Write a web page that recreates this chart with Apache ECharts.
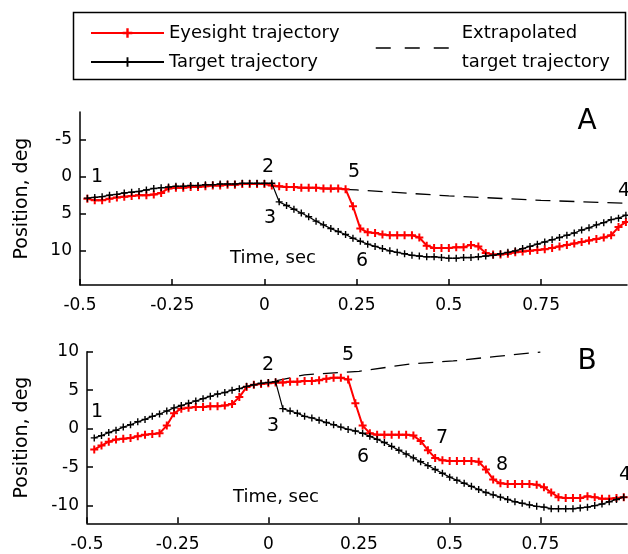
<!DOCTYPE html>
<html>
<head>
<meta charset="utf-8">
<script src="https://cdn.jsdelivr.net/npm/echarts@6/dist/echarts.min.js"></script>
<style>
  html, body { margin: 0; padding: 0; background: #fff; }
  #chart { width: 628px; height: 554px; }
</style>
</head>
<body>
<div id="chart"></div>
<script>
// sample times (s), shared by both panels
const times = [
  -0.48, -0.46, -0.44, -0.42, -0.40, -0.38, -0.36, -0.34, -0.32, -0.30,
  -0.28, -0.26, -0.24, -0.22, -0.20, -0.18, -0.16, -0.14, -0.12, -0.10,
  -0.08, -0.06, -0.04, -0.02, 0.00, 0.02, 0.04, 0.06, 0.08, 0.10,
  0.12, 0.14, 0.16, 0.18, 0.20, 0.22, 0.24, 0.26, 0.28, 0.30,
  0.32, 0.34, 0.36, 0.38, 0.40, 0.42, 0.44, 0.46, 0.48, 0.50,
  0.52, 0.54, 0.56, 0.58, 0.60, 0.62, 0.64, 0.66, 0.68, 0.70,
  0.72, 0.74, 0.76, 0.78, 0.80, 0.82, 0.84, 0.86, 0.88, 0.90,
  0.92, 0.94, 0.96, 0.98
];

// panel A (deg)
const targetA = [
  2.9, 2.8, 2.7, 2.5, 2.4, 2.2, 2.1, 2.0, 1.8, 1.6,
  1.5, 1.4, 1.3, 1.3, 1.2, 1.2, 1.1, 1.1, 1.0, 1.0,
  1.0, 0.9, 0.9, 0.9, 0.9, 0.9, 3.4, 3.9, 4.4, 4.9,
  5.4, 6.0, 6.5, 7.0, 7.4, 7.8, 8.3, 8.7, 9.1, 9.4,
  9.7, 10.0, 10.2, 10.4, 10.6, 10.7, 10.8, 10.8, 10.9, 11.0,
  11.0, 10.9, 10.9, 10.8, 10.7, 10.6, 10.4, 10.2, 10.0, 9.7,
  9.4, 9.1, 8.8, 8.5, 8.2, 7.9, 7.6, 7.2, 6.9, 6.5,
  6.2, 5.8, 5.6, 5.2
];
const eyeA = [
  3.0, 3.2, 3.2, 3.0, 2.8, 2.7, 2.6, 2.5, 2.5, 2.4,
  2.2, 1.6, 1.5, 1.5, 1.4, 1.4, 1.3, 1.2, 1.2, 1.1,
  1.1, 1.0, 1.0, 1.0, 1.0, 1.2, 1.3, 1.4, 1.4, 1.5,
  1.5, 1.5, 1.6, 1.6, 1.6, 1.7, 4.0, 7.0, 7.5, 7.6,
  7.8, 7.9, 7.9, 7.9, 7.9, 8.2, 9.3, 9.6, 9.6, 9.6,
  9.5, 9.5, 9.2, 9.4, 10.3, 10.5, 10.5, 10.4, 10.2, 10.1,
  10.0, 9.9, 9.8, 9.6, 9.4, 9.2, 9.0, 8.8, 8.6, 8.4,
  8.2, 7.9, 6.8, 6.1
];
const extTimesA = [0.02, 0.25, 0.50, 0.75, 0.98];
const extA = [1.3, 1.8, 2.6, 3.2, 3.6];

// panel B (deg)
const targetB = [
  -1.2, -0.9, -0.5, -0.2, 0.2, 0.5, 0.9, 1.2, 1.6, 1.9,
  2.3, 2.7, 3.0, 3.3, 3.6, 3.9, 4.2, 4.5, 4.7, 5.0,
  5.2, 5.5, 5.7, 5.9, 6.0, 6.1, 2.6, 2.3, 2.0, 1.6,
  1.4, 1.1, 0.8, 0.5, 0.2, -0.1, -0.3, -0.6, -1.0, -1.4,
  -1.8, -2.3, -2.8, -3.3, -3.8, -4.3, -4.8, -5.3, -5.8, -6.3,
  -6.7, -7.1, -7.5, -7.9, -8.3, -8.6, -8.9, -9.2, -9.5, -9.7,
  -9.9, -10.1, -10.2, -10.4, -10.4, -10.4, -10.4, -10.3, -10.2, -10.0,
  -9.8, -9.5, -9.2, -8.9
];
const eyeB = [
  -2.7, -2.2, -1.7, -1.4, -1.3, -1.2, -1.0, -0.8, -0.7, -0.6,
  0.4, 2.0, 2.6, 2.7, 2.8, 2.8, 2.9, 2.9, 3.0, 3.2,
  4.1, 5.4, 5.7, 5.8, 5.9, 6.0, 6.0, 6.1, 6.1, 6.2,
  6.2, 6.3, 6.5, 6.6, 6.6, 6.4, 3.3, 0.4, -0.6, -0.8,
  -0.8, -0.8, -0.8, -0.8, -0.9, -1.6, -2.8, -3.8, -4.1, -4.2,
  -4.2, -4.2, -4.2, -4.3, -5.3, -6.6, -7.1, -7.2, -7.2, -7.2,
  -7.2, -7.3, -7.6, -8.3, -8.9, -9.0, -9.0, -9.0, -8.8, -8.9,
  -9.1, -9.1, -9.0, -8.9
];
const extTimesB = [0.02, 0.10, 0.25, 0.39, 0.51, 0.63, 0.75];
const extB = [6.2, 7.0, 7.45, 8.4, 8.8, 9.4, 9.95];

const xTicks = [-0.5, -0.25, 0, 0.25, 0.5, 0.75];
const yTicksA = [-5, 0, 5, 10];
const yTicksB = [-10, -5, 0, 5, 10];

const NAME_EYE = 'Eyesight trajectory';
const NAME_TGT = 'Target trajectory';
const NAME_EXT = 'Extrapolated\ntarget trajectory';

const FONT = 'DejaVu Sans, sans-serif';
const plusThick = 'path://M3,0h2v3h3v2h-3v3h-2v-3h-3v-2h3z';
const plusThin = 'path://M2,0h1v2h2v1h-2v2h-1v-2h-2v-1h2z';

function pairs(xs, ys) {
  return xs.map((x, i) => [x, ys[i]]);
}

function xAxisOf(gridIndex, max, margin) {
  return {
    type: 'value', gridIndex: gridIndex, min: -0.5, max: max,
    axisLine: { onZero: false, lineStyle: { color: '#000', width: 1.5 } },
    axisTick: { inside: true, length: 6, customValues: xTicks, lineStyle: { color: '#000', width: 1.5 } },
    axisLabel: { customValues: xTicks, color: '#000', fontSize: 17, fontFamily: FONT, margin: margin },
    splitLine: { show: false }
  };
}

function yAxisOf(gridIndex, min, max, inverse, ticks, gap) {
  return {
    type: 'value', gridIndex: gridIndex, min: min, max: max, inverse: inverse,
    name: 'Position, deg', nameLocation: 'middle', nameRotate: 90, nameGap: gap,
    nameTextStyle: { color: '#000', fontSize: 19, fontFamily: FONT },
    axisLine: { show: true, onZero: false, lineStyle: { color: '#000', width: 1.5 } },
    axisTick: { show: true, inside: true, length: 6, customValues: ticks, lineStyle: { color: '#000', width: 1.5 } },
    axisLabel: { customValues: ticks, color: '#000', fontSize: 17, fontFamily: FONT, margin: 8 },
    splitLine: { show: false }
  };
}

function eyeSeries(idx, ys) {
  return {
    name: NAME_EYE, type: 'line', xAxisIndex: idx, yAxisIndex: idx,
    data: pairs(times, ys), symbol: plusThick, symbolSize: 8,
    itemStyle: { color: '#ff0000' }, lineStyle: { color: '#ff0000', width: 2 }, z: 3
  };
}
function targetSeries(idx, ys) {
  return {
    name: NAME_TGT, type: 'line', xAxisIndex: idx, yAxisIndex: idx,
    data: pairs(times, ys), symbol: plusThin, symbolSize: 7,
    itemStyle: { color: '#000' }, lineStyle: { color: '#000', width: 1.2 }, z: 4
  };
}
function extSeries(idx, xs, ys) {
  return {
    name: NAME_EXT, type: 'line', xAxisIndex: idx, yAxisIndex: idx,
    data: pairs(xs, ys), symbol: 'none',
    itemStyle: { color: '#000' },
    lineStyle: { color: '#000', width: 1.3, type: [15, 9] }, z: 2
  };
}

function label(text, x, y, size) {
  return {
    type: 'text', x: x, y: y, z: 10,
    style: { text: text, fill: '#000', font: (size || 19) + 'px ' + FONT, align: 'center', verticalAlign: 'middle' }
  };
}

const chart = echarts.init(document.getElementById('chart'), null, { renderer: 'canvas' });
chart.setOption({
  animation: false,
  backgroundColor: '#fff',
  grid: [
    { left: 80, top: 112, width: 547, height: 173 },
    { left: 87, top: 351.7, width: 540, height: 171.6 }
  ],
  xAxis: [xAxisOf(0, 0.983, 12), xAxisOf(1, 0.989, 13)],
  yAxis: [
    yAxisOf(0, -8.7, 14.6, true, yTicksA, 48),
    yAxisOf(1, -12.3, 10, false, yTicksB, 55)
  ],
  legend: [
    {
      data: [NAME_EYE, NAME_TGT], orient: 'vertical', left: 85, top: 18,
      itemWidth: 73, itemHeight: 12, itemGap: 9,
      textStyle: { color: '#000', fontSize: 18, fontFamily: FONT, lineHeight: 20, padding: 0 },
      selectedMode: false
    },
    {
      data: [NAME_EXT], left: 370, top: 14,
      itemWidth: 73, itemHeight: 12,
      itemStyle: { opacity: 0 },
      lineStyle: { color: '#000', width: 1.5, type: [15, 14] },
      textStyle: { color: '#000', fontSize: 18, fontFamily: FONT, lineHeight: 29, padding: [0, 0, 0, 8] },
      selectedMode: false
    }
  ],
  graphic: [
    { type: 'rect', shape: { x: 73.5, y: 12.5, width: 552, height: 67 }, style: { fill: 'none', stroke: '#000', lineWidth: 1.5 }, z: 0 },
    label('A', 587, 122, 28), label('B', 587, 362, 28),
    label('Time, sec', 273, 258, 18), label('Time, sec', 276, 497, 18),
    label('1', 97, 177), label('2', 268, 167), label('3', 270, 218),
    label('5', 354, 172), label('6', 362, 261), label('4', 624, 191),
    label('1', 97, 412), label('2', 268, 365), label('3', 273, 426),
    label('5', 348, 355), label('6', 363, 457), label('7', 442, 438),
    label('8', 502, 465), label('4', 625, 475)
  ],
  series: [
    extSeries(0, extTimesA, extA), eyeSeries(0, eyeA), targetSeries(0, targetA),
    extSeries(1, extTimesB, extB), eyeSeries(1, eyeB), targetSeries(1, targetB)
  ]
});
</script>
</body>
</html>
